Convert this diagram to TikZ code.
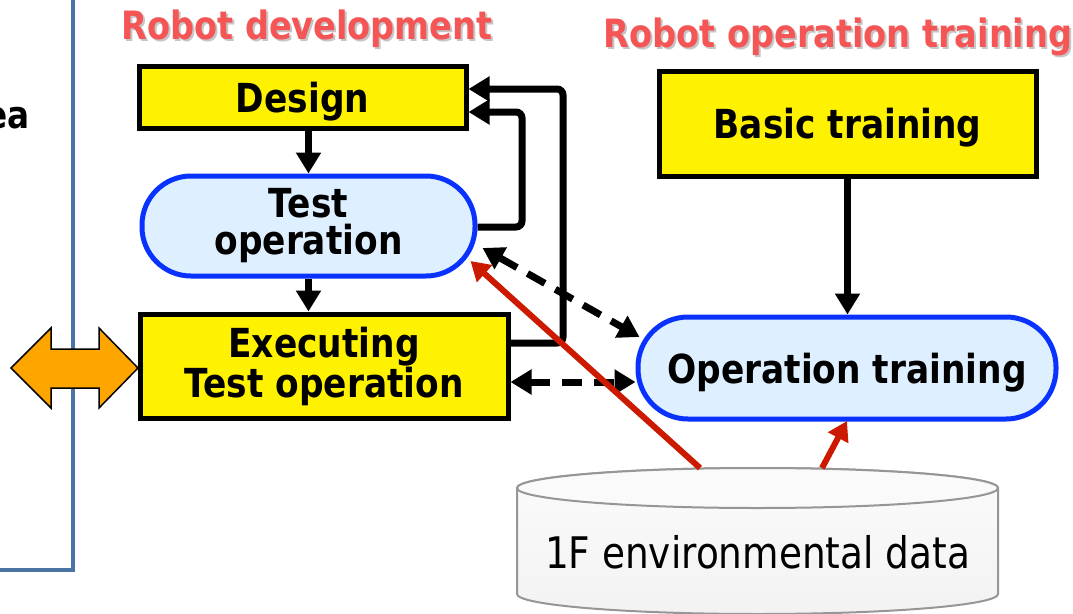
\documentclass[tikz,border=0pt]{standalone}
\usepackage{fontspec}
\setmainfont{DejaVu Sans}[FakeStretch=0.86]
\usetikzlibrary{arrows.meta,calc}
\definecolor{lblue}{RGB}{222,240,255}
\definecolor{bblue}{RGB}{10,50,255}
\definecolor{tred}{RGB}{245,85,85}
\definecolor{rarrow}{RGB}{204,26,0}
\definecolor{orng}{RGB}{255,165,0}
\definecolor{steel}{RGB}{74,116,164}
\definecolor{cylborder}{RGB}{150,150,150}
\tikzset{
  ybox/.style={draw=black, line width=5pt, fill=yellow, inner sep=0pt, align=center,
    font=\fontsize{40}{37}\selectfont\bfseries},
  pill/.style={draw=bblue, line width=5pt, fill=lblue, inner sep=0pt, align=center,
    font=\fontsize{40}{37}\selectfont\bfseries},
  conn/.style={line width=7pt, -{Triangle[length=21pt,width=24pt]}},
  dconn/.style={line width=7pt, dash pattern=on 20pt off 12pt,
    {Triangle[length=21pt,width=24pt]}-{Triangle[length=21pt,width=24pt]}},
  rconn/.style={line width=6pt, draw=rarrow, -{Triangle[length=19pt,width=22pt]}, rarrow},
  ttl/.style={font=\fontsize{39}{40}\selectfont\bfseries, inner sep=0pt, anchor=base},
}
\begin{document}
\begin{tikzpicture}[x=1pt,y=-1pt]
\useasboundingbox (0,0) rectangle (1073,613);
% left frame line
\draw[steel, line width=4pt] (73,0) -- (73,570) -- (0,570);
\node[font=\fontsize{38}{40}\selectfont\bfseries, inner sep=0pt, anchor=base east] (ea) at (30,128) {ea};
% orange double arrow
\draw[fill=orng, line width=1.5pt, line join=miter] (11,368) -- (51,328) -- (51,349) -- (99,349) -- (99,328) -- (138,368)
  -- (99,408) -- (99,388) -- (51,388) -- (51,408) -- cycle;
% titles
\node[ttl, text=gray, opacity=0.45] (t1s) at (309,41) {Robot development};
\node[ttl, text=tred] (t1) at (307,39) {Robot development};
\node[ttl, text=gray, opacity=0.45] (t2s) at (840,49) {Robot operation training};
\node[ttl, text=tred] (t2) at (838,47) {Robot operation training};
% boxes
\node[ybox, text depth=0pt, minimum width=327pt, minimum height=62pt] (design) at (302.5,97) {Design};
\node[pill, rounded corners=49pt, minimum width=333pt, minimum height=100pt] (test) at (308.5,226) {Test\\operation};
\node[ybox, minimum width=368pt, minimum height=104pt] (exec) at (324,366) {Executing\\Test operation};
\node[ybox, text depth=0pt, minimum width=377pt, minimum height=105pt] (basic) at (847.5,123.5) {Basic training};
\node[pill, text depth=0pt, rounded corners=50pt, minimum width=418pt, minimum height=102pt] (optrain) at (847,368) {Operation training};
% cylinder
\path[draw=cylborder, line width=2pt, top color=gray!3, bottom color=gray!10]
  (517,488) -- (517,594) arc[start angle=180, end angle=360, x radius=240.5, y radius=-20]
  -- (998,488) arc[start angle=0, end angle=180, x radius=240.5, y radius=-20] -- cycle;
\draw[draw=cylborder, line width=2pt, fill=gray!4] (757.5,488) ellipse[x radius=240.5, y radius=20];
\node[font=\fontsize{43.5}{44}\selectfont, inner sep=0pt, anchor=base] (cyl) at (757.5,568) {1F environmental data};
\coordinate (c1) at (700,468);
\coordinate (c2) at (822,468);
% black connectors
\draw[conn] (design.south -| test.north) -- (test.north);
\draw[conn] (test.south) -- (test.south |- exec.north);
\draw[conn] (basic.south) -- (basic.south |- optrain.north);
\coordinate (l1) at (522,112);
\coordinate (l2) at (563,89);
\draw[conn, rounded corners=6pt] ($(test.east)+(0,1)$) -| (l1) -- (design.east |- l1);
\draw[conn, rounded corners=6pt] (exec.east |- 0,343) -| (l2) -- (design.east |- l2);
\draw[dconn] ($(test.east)+(5,22)$) -- ($(optrain.west)+(4,-31)$);
\draw[dconn] (exec.east |- 0,382) -- (optrain.west |- 0,382);
% red connectors
\draw[rconn] (c1) -- ($(test.east)+(-7,35)$);
\draw[rconn] (c2) -- (optrain.south |- 0,421);
\end{tikzpicture}
\end{document}
